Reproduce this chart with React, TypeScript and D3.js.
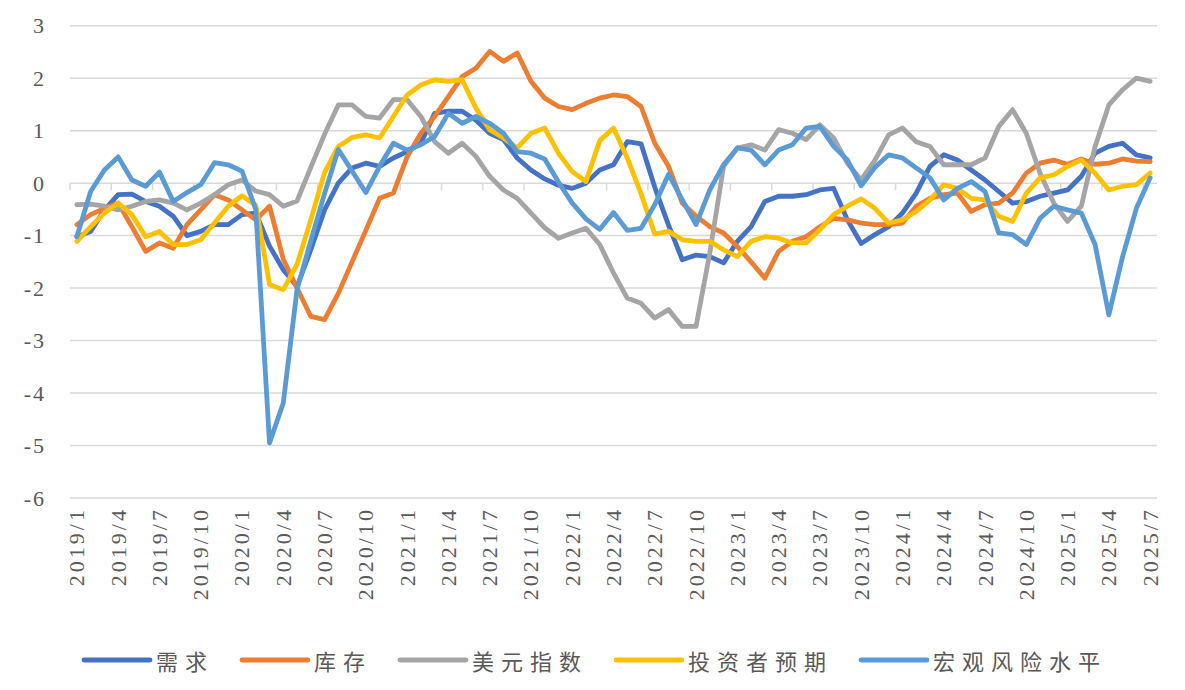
import React from "react";
import * as d3 from "d3";

// Categories: monthly from 2019/1 to 2025/7
const months: string[] = [];
for (let y = 2019; y <= 2025; y++) {
  for (let m = 1; m <= 12; m++) {
    if (y === 2025 && m > 7) break;
    months.push(`${y}/${m}`);
  }
}

const yTicks = [3, 2, 1, 0, -1, -2, -3, -4, -5, -6];

const seriesNames = ["需求", "库存", "美元指数", "投资者预期", "宏观风险水平"];
const seriesColors = ["#4472C4", "#ED7D31", "#A5A5A5", "#FFC000", "#5B9BD5"];

const demand = [
  -1.02, -0.92, -0.51, -0.22, -0.21, -0.35, -0.44, -0.63, -1.0, -0.92, -0.79, -0.79,
  -0.6, -0.57, -1.2, -1.65, -1.97, -1.27, -0.51, 0.0, 0.29, 0.38, 0.32, 0.48,
  0.6, 0.76, 1.33, 1.37, 1.37, 1.2, 0.95, 0.83, 0.48, 0.25, 0.08, -0.04,
  -0.1, 0.0, 0.25, 0.35, 0.79, 0.75, -0.08, -0.8, -1.46, -1.37, -1.4, -1.52,
  -1.11, -0.83, -0.35, -0.25, -0.25, -0.22, -0.13, -0.1, -0.7, -1.15, -0.98, -0.83,
  -0.57, -0.19, 0.32, 0.54, 0.44, 0.25, 0.06, -0.16, -0.38, -0.35, -0.25, -0.19,
  -0.13, 0.13, 0.57, 0.7, 0.76, 0.54, 0.48,
];

const inventory = [
  -0.79, -0.6, -0.48, -0.38, -0.83, -1.3, -1.14, -1.24, -0.79, -0.51, -0.22, -0.32,
  -0.51, -0.7, -0.44, -1.45, -2.0, -2.54, -2.6, -2.1, -1.5, -0.9, -0.29, -0.19,
  0.5, 0.95, 1.27, 1.65, 2.03, 2.19, 2.51, 2.32, 2.48, 1.94, 1.62, 1.46,
  1.4, 1.52, 1.62, 1.68, 1.65, 1.46, 0.76, 0.32, -0.38, -0.63, -0.83, -0.95,
  -1.21, -1.5, -1.81, -1.3, -1.11, -1.02, -0.83, -0.67, -0.7, -0.76, -0.79, -0.79,
  -0.76, -0.44, -0.29, -0.22, -0.19, -0.54, -0.41, -0.38, -0.19, 0.19, 0.38, 0.44,
  0.36, 0.46, 0.36, 0.38, 0.46, 0.42, 0.41,
];

const dollarIndex = [
  -0.41, -0.4, -0.44, -0.51, -0.44, -0.35, -0.32, -0.38, -0.51, -0.38, -0.22, -0.03,
  0.06, -0.15, -0.22, -0.44, -0.34, 0.3, 0.93, 1.49, 1.49, 1.27, 1.24, 1.59,
  1.59, 1.27, 0.79, 0.57, 0.76, 0.51, 0.13, -0.13, -0.29, -0.57, -0.85, -1.05,
  -0.95, -0.86, -1.17, -1.71, -2.19, -2.29, -2.57, -2.41, -2.73, -2.73, -1.33, 0.32,
  0.67, 0.73, 0.63, 1.02, 0.95, 0.83, 1.11, 0.86, 0.38, 0.06, 0.44, 0.92,
  1.05, 0.79, 0.7, 0.35, 0.35, 0.35, 0.48, 1.08, 1.4, 0.95, 0.19, -0.38,
  -0.73, -0.44, 0.7, 1.49, 1.78, 2.0, 1.94,
];

const investorExpect = [
  -1.11, -0.83, -0.57, -0.38, -0.6, -1.02, -0.92, -1.17, -1.17, -1.08, -0.76, -0.44,
  -0.24, -0.42, -1.93, -2.03, -1.55, -0.7, 0.2, 0.7, 0.87, 0.92, 0.86, 1.27,
  1.68, 1.87, 1.97, 1.94, 1.97, 1.43, 1.02, 0.86, 0.67, 0.95, 1.05, 0.57,
  0.22, 0.03, 0.81, 1.05, 0.48, -0.2, -0.97, -0.92, -1.08, -1.11, -1.11, -1.27,
  -1.4, -1.11, -1.02, -1.05, -1.14, -1.14, -0.89, -0.6, -0.44, -0.3, -0.48, -0.76,
  -0.7, -0.54, -0.32, -0.03, -0.1, -0.29, -0.32, -0.63, -0.73, -0.19, 0.1, 0.16,
  0.32, 0.44, 0.19, -0.13, -0.06, -0.03, 0.19,
];

const macroRisk = [
  -1.02, -0.16, 0.25, 0.5, 0.06, -0.06, 0.21, -0.35, -0.18, -0.03, 0.39, 0.35,
  0.23, -0.5, -4.95, -4.19, -2.03, -1.1, -0.2, 0.64, 0.23, -0.18, 0.32, 0.76,
  0.63, 0.73, 0.89, 1.33, 1.14, 1.27, 1.14, 0.95, 0.6, 0.57, 0.46, 0.02,
  -0.38, -0.68, -0.88, -0.56, -0.9, -0.86, -0.41, 0.17, -0.32, -0.79, -0.13, 0.35,
  0.67, 0.63, 0.35, 0.63, 0.73, 1.05, 1.08, 0.7, 0.44, -0.05, 0.3, 0.54,
  0.48, 0.29, 0.1, -0.32, -0.1, 0.03, -0.16, -0.95, -0.98, -1.17, -0.67, -0.44,
  -0.51, -0.57, -1.17, -2.51, -1.4, -0.48, 0.1,
];

const seriesValues = [demand, inventory, dollarIndex, investorExpect, macroRisk];

const W = 1185;
const H = 690;
const plotLeft = 70;
const plotRight = 1157;
const plotTop = 25.7;
const plotBottom = 498;

const labelColor = "#595959";
const gridColor = "#d9d9d9";
const serif = "'Liberation Serif', 'Times New Roman', serif";
const cjk = "'Noto Sans CJK SC', sans-serif";

export default function App() {
  const x = d3.scalePoint<string>().domain(months).range([plotLeft, plotRight]).padding(0.5);
  const step = x.step();
  const y = d3.scaleLinear().domain([-6, 3]).range([plotBottom, plotTop]);

  const line = d3
    .line<number>()
    .x((_, i) => x(months[i]) as number)
    .y((d) => y(d));

  const tickPositions: number[] = [];
  for (let k = 0; k * 3 < months.length; k++) {
    tickPositions.push(plotLeft + k * 3 * step);
  }

  const labelMonths = months.filter((_, i) => i % 3 === 0);

  // legend layout
  const swatchLen = 66;
  const charW = 29;
  let cursor = 84;
  const legendItems = seriesNames.map((name, i) => {
    const item = { name, color: seriesColors[i], x: cursor };
    cursor += swatchLen + 6 + name.length * charW + 28;
    return item;
  });
  const legendY = 660;

  return (
    <svg
      width={W}
      height={H}
      style={{ position: "absolute", left: 0, top: 0, background: "#fff" }}
    >
      {yTicks.map((t) => (
        <line
          key={"g" + t}
          x1={plotLeft}
          x2={plotRight}
          y1={y(t)}
          y2={y(t)}
          stroke={gridColor}
          strokeWidth={1.5}
        />
      ))}
      {tickPositions.map((tx, i) => (
        <line
          key={"t" + i}
          x1={tx}
          x2={tx}
          y1={y(0)}
          y2={y(0) + 7}
          stroke={gridColor}
          strokeWidth={1.5}
        />
      ))}
      {yTicks.map((t) => (
        <text
          key={"yl" + t}
          x={46}
          y={y(t)}
          textAnchor="end"
          dominantBaseline="central"
          fontFamily={serif}
          fontSize={22}
          letterSpacing={2}
          fill={labelColor}
        >
          {t}
        </text>
      ))}
      {labelMonths.map((m) => (
        <text
          key={"xl" + m}
          transform={`translate(${x(m)},${plotBottom + 9}) rotate(-90)`}
          textAnchor="end"
          dominantBaseline="central"
          fontFamily={serif}
          fontSize={22}
          letterSpacing={3}
          fill={labelColor}
        >
          {m}
        </text>
      ))}
      {seriesValues.map((vals, i) => (
        <path
          key={"s" + i}
          d={line(vals) || ""}
          fill="none"
          stroke={seriesColors[i]}
          strokeWidth={4.8}
          strokeLinejoin="round"
          strokeLinecap="round"
        />
      ))}
      {legendItems.map((it) => (
        <g key={"lg" + it.name}>
          <line
            x1={it.x}
            x2={it.x + swatchLen}
            y1={legendY}
            y2={legendY}
            stroke={it.color}
            strokeWidth={4.8}
            strokeLinecap="round"
          />
          <text
            x={it.x + swatchLen + 6}
            y={legendY}
            dominantBaseline="central"
            fontFamily={cjk}
            fontSize={22}
            letterSpacing={7}
            fill={labelColor}
          >
            {it.name}
          </text>
        </g>
      ))}
    </svg>
  );
}
